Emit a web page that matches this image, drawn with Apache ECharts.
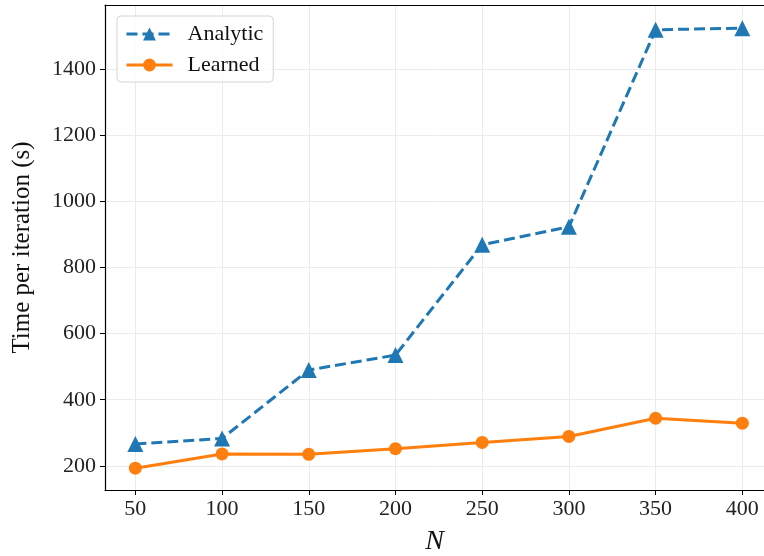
<!DOCTYPE html>
<html>
<head>
<meta charset="utf-8">
<script src="https://cdn.jsdelivr.net/npm/echarts@6/dist/echarts.min.js"></script>
<style>html,body{margin:0;padding:0;background:#fff;}#c{width:764px;height:556px;}</style>
</head>
<body>
<div id="c"></div>
<script>
const nValues = [50, 100, 150, 200, 250, 300, 350, 400];
const analytic = [266, 283, 490, 535, 869, 923, 1519, 1524];
const learned = [193, 236, 235, 252, 271, 289, 344, 329];
const xTicks = [50, 100, 150, 200, 250, 300, 350, 400];
const yTicks = [200, 400, 600, 800, 1000, 1200, 1400];

const FONT = 'Liberation Serif';
const chart = echarts.init(document.getElementById('c'), null, {renderer: 'canvas'});
const axisCommon = {
  axisLine: {show: true, onZero: false, lineStyle: {color: '#000', width: 1.2}},
  axisTick: {show: true, inside: false, length: 5, lineStyle: {color: '#000', width: 1}},
  splitLine: {show: true, lineStyle: {color: '#ebebeb', width: 1}},
  axisLabel: {color: '#222', fontFamily: FONT, fontSize: 22, formatter: v => String(v)}
};
chart.setOption({
  animation: false,
  backgroundColor: '#fff',
  grid: {left: 105, right: 0, top: 5, bottom: 66, containLabel: false, outerBoundsMode: 'none'},
  legend: {
    left: 117, top: 16, orient: 'vertical',
    padding: [7, 10, 6, 8], itemGap: 9,
    itemWidth: 46, itemHeight: 16,
    borderColor: '#d5d5d5', borderWidth: 1, borderRadius: 4,
    backgroundColor: 'rgba(255,255,255,0.8)',
    lineStyle: {width: 3},
    textStyle: {fontFamily: FONT, fontSize: 22, color: '#111', padding: [0, 0, 0, 10]},
    data: ['Analytic', 'Learned']
  },
  xAxis: [
    Object.assign({}, axisCommon, {
      type: 'value', min: 32.5, max: 412.5,
      name: 'N', nameLocation: 'middle', nameGap: 38,
      nameTextStyle: {fontFamily: FONT, fontSize: 28, fontStyle: 'italic', color: '#111'},
      axisTick: Object.assign({}, axisCommon.axisTick, {customValues: xTicks}),
      axisLabel: Object.assign({}, axisCommon.axisLabel, {customValues: xTicks, margin: 8})
    }),
    {
      type: 'value', position: 'top', min: 32.5, max: 412.5,
      axisLine: {show: true, onZero: false, lineStyle: {color: '#000', width: 1.2}},
      axisTick: {show: false}, axisLabel: {show: false}, splitLine: {show: false}
    }
  ],
  yAxis: Object.assign({}, axisCommon, {
    type: 'value', min: 127, max: 1594,
    name: 'Time per iteration (s)', nameLocation: 'middle', nameGap: 70,
    nameTextStyle: {fontFamily: FONT, fontSize: 25, color: '#111'},
    axisTick: Object.assign({}, axisCommon.axisTick, {customValues: yTicks}),
    axisLabel: Object.assign({}, axisCommon.axisLabel, {customValues: yTicks, margin: 9})
  }),
  series: [
    {
      name: 'Analytic', type: 'line',
      data: nValues.map((n, i) => [n, analytic[i]]),
      symbol: 'triangle', symbolSize: 16, showSymbol: true,
      lineStyle: {color: '#1f77b4', width: 3, type: [11, 5]},
      itemStyle: {color: '#1f77b4'}
    },
    {
      name: 'Learned', type: 'line',
      data: nValues.map((n, i) => [n, learned[i]]),
      symbol: 'circle', symbolSize: 13, showSymbol: true,
      lineStyle: {color: '#ff7f0e', width: 3},
      itemStyle: {color: '#ff7f0e'}
    }
  ]
});
</script>
</body>
</html>
